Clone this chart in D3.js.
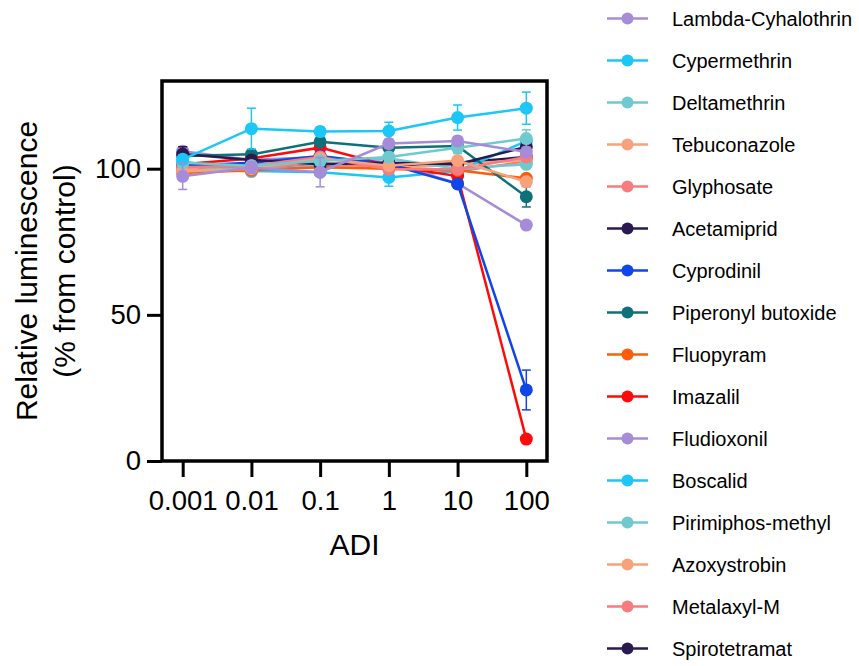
<!DOCTYPE html>
<html>
<head>
<meta charset="utf-8">
<script src="https://cdn.jsdelivr.net/npm/d3@7"></script>
<style>
  html, body { margin: 0; padding: 0; background: #fff; }
  svg text { font-family: Arial, "Liberation Sans", sans-serif; fill: #000; }
</style>
</head>
<body>
<svg id="chart" width="859" height="666"></svg>
<script>
// Concentrations (ADI multiples) and tick labels
const concentrations = [0.001, 0.01, 0.1, 1, 10, 100];
const xTickLabels = ["0.001", "0.01", "0.1", "1", "10", "100"];
const yTicks = [0, 50, 100];

// Compounds in legend order
const compounds = [
  "Lambda-Cyhalothrin", "Cypermethrin", "Deltamethrin", "Tebuconazole",
  "Glyphosate", "Acetamiprid", "Cyprodinil", "Piperonyl butoxide",
  "Fluopyram", "Imazalil", "Fludioxonil", "Boscalid",
  "Pirimiphos-methyl", "Azoxystrobin", "Metalaxyl-M", "Spirotetramat"
];
const colors = [
  "#a68cd8", "#1cc6f6", "#6ecace", "#f8a27c",
  "#f87b7e", "#2b1a52", "#1046e8", "#10707a",
  "#ff5b0c", "#ff0a0a", "#a68cd8", "#1cc6f6",
  "#6ecace", "#f8a27c", "#f87b7e", "#2b1a52"
];

// Mean relative luminescence (% of control) per compound
const lambdaCyhalothrin = [97.4, 100.4, 98.8, 108.6, 109.5, 105.7];
const cypermethrin      = [103.2, 113.7, 112.7, 112.9, 117.5, 120.7];
const deltamethrin      = [102.0, 101.0, 102.6, 104.0, 107.2, 110.3];
const tebuconazole      = [99.0, 100.0, 103.5, 101.0, 102.8, 95.5];
const glyphosate        = [100.5, 101.0, 104.0, 99.8, 99.8, 104.0];
const acetamiprid       = [105.0, 103.0, 101.5, 102.0, 101.5, 107.5];
const cyprodinil        = [101.0, 102.0, 104.3, 101.5, 94.8, 24.3];
const piperonylButoxide = [104.3, 104.9, 109.2, 107.2, 107.8, 90.4];
const fluopyram         = [98.5, 99.5, 100.5, 100.0, 99.5, 96.7];
const imazalil          = [101.5, 103.5, 107.2, 101.0, 97.5, 7.5];
const fludioxonil       = [106.0, 103.0, 104.0, 102.0, 95.0, 80.7];
const boscalid          = [102.5, 99.2, 98.8, 97.0, 99.2, 109.4];
const pirimiphosMethyl  = [101.0, 99.5, 101.0, 103.5, 100.0, 101.5];
const azoxystrobin      = [100.0, 99.0, 101.0, 100.0, 101.5, 103.0];
const metalaxylM        = [101.0, 100.0, 102.0, 100.5, 99.0, 102.5];
const spirotetramat     = [100.0, 101.5, 100.5, 101.0, 102.0, 104.0];

// Standard deviations per compound
const lambdaCyhalothrinSD = [4.5, 2.0, 5.0, 1.5, 1.5, 1.5];
const cypermethrinSD      = [1.5, 7.0, 1.5, 3.0, 4.3, 5.5];
const deltamethrinSD      = [1.5, 1.5, 1.5, 1.5, 2.0, 3.0];
const tebuconazoleSD      = [1.0, 1.0, 1.0, 1.0, 1.0, 1.0];
const glyphosateSD        = [1.0, 1.0, 1.0, 1.0, 1.0, 1.0];
const acetamipridSD       = [2.5, 1.0, 1.0, 1.0, 1.0, 1.5];
const cyprodinilSD        = [1.0, 1.0, 1.0, 1.0, 1.0, 6.8];
const piperonylButoxideSD = [1.5, 1.5, 1.0, 1.0, 1.0, 3.5];
const fluopyramSD         = [1.0, 1.0, 1.0, 1.0, 1.0, 1.0];
const imazalilSD          = [1.0, 1.0, 1.0, 1.0, 1.0, 0.5];
const fludioxonilSD       = [1.5, 1.0, 1.0, 1.0, 1.5, 1.0];
const boscalidSD          = [1.0, 1.0, 1.0, 3.0, 1.0, 1.5];
const pirimiphosMethylSD  = [1.0, 1.0, 1.0, 1.0, 1.0, 1.0];
const azoxystrobinSD      = [1.0, 1.0, 1.0, 1.0, 1.0, 1.0];
const metalaxylMSD        = [1.0, 1.0, 1.0, 1.0, 1.0, 1.0];
const spirotetramatSD     = [1.0, 1.0, 1.0, 1.0, 1.0, 1.0];

const meanSets = [
  lambdaCyhalothrin, cypermethrin, deltamethrin, tebuconazole,
  glyphosate, acetamiprid, cyprodinil, piperonylButoxide,
  fluopyram, imazalil, fludioxonil, boscalid,
  pirimiphosMethyl, azoxystrobin, metalaxylM, spirotetramat
];
const sdSets = [
  lambdaCyhalothrinSD, cypermethrinSD, deltamethrinSD, tebuconazoleSD,
  glyphosateSD, acetamipridSD, cyprodinilSD, piperonylButoxideSD,
  fluopyramSD, imazalilSD, fludioxonilSD, boscalidSD,
  pirimiphosMethylSD, azoxystrobinSD, metalaxylMSD, spirotetramatSD
];

const series = compounds.map((name, i) => ({
  name,
  color: colors[i],
  points: concentrations.map((c, j) => ({ x: c, y: meanSets[i][j], sd: sdSets[i][j] }))
}));

const svg = d3.select("#chart");

const plot = { left: 162, right: 547, top: 81, bottom: 461 };
const x = d3.scaleLog().domain([0.0005, 200]).range([plot.left, plot.right]);
const y = d3.scaleLinear().domain([0, 130]).range([plot.bottom, plot.top]);

// Series: first compound ends up on top
const gSeries = svg.append("g");
const line = d3.line().x(d => x(d.x)).y(d => y(d.y));

series.slice().reverse().forEach(s => {
  const g = gSeries.append("g");
  // error bars
  const eb = g.selectAll("g.eb").data(s.points).join("g").attr("class", "eb")
    .attr("stroke", s.color).attr("stroke-width", 1.5);
  eb.append("line")
    .attr("x1", d => x(d.x)).attr("x2", d => x(d.x))
    .attr("y1", d => y(d.y - d.sd)).attr("y2", d => y(d.y + d.sd));
  eb.append("line")
    .attr("x1", d => x(d.x) - 4.5).attr("x2", d => x(d.x) + 4.5)
    .attr("y1", d => y(d.y + d.sd)).attr("y2", d => y(d.y + d.sd));
  eb.append("line")
    .attr("x1", d => x(d.x) - 4.5).attr("x2", d => x(d.x) + 4.5)
    .attr("y1", d => y(d.y - d.sd)).attr("y2", d => y(d.y - d.sd));
  g.append("path").datum(s.points)
    .attr("d", line).attr("fill", "none")
    .attr("stroke", s.color).attr("stroke-width", 2.5);
  g.selectAll("circle").data(s.points).join("circle")
    .attr("cx", d => x(d.x)).attr("cy", d => y(d.y))
    .attr("r", 6.5).attr("fill", s.color);
});

// Frame
svg.append("rect")
  .attr("x", plot.left).attr("y", plot.top)
  .attr("width", plot.right - plot.left).attr("height", plot.bottom - plot.top)
  .attr("fill", "none").attr("stroke", "#000").attr("stroke-width", 3.5);

// X axis
const xAxis = d3.axisBottom(x)
  .tickValues(concentrations)
  .tickFormat((d, i) => xTickLabels[i])
  .tickSize(16).tickPadding(13);
const gx = svg.append("g").attr("transform", `translate(0,${plot.bottom})`).call(xAxis);
gx.select(".domain").remove();
gx.selectAll(".tick line").attr("stroke", "#000").attr("stroke-width", 3);
gx.selectAll(".tick text").attr("font-size", 27.5).attr("fill", "#000")
  .attr("font-family", "Arial, 'Liberation Sans', sans-serif");

// Y axis
const yAxis = d3.axisLeft(y).tickValues(yTicks).tickSize(15).tickPadding(6);
const gy = svg.append("g").attr("transform", `translate(${plot.left},0)`).call(yAxis);
gy.select(".domain").remove();
gy.selectAll(".tick line").attr("stroke", "#000").attr("stroke-width", 3);
gy.selectAll(".tick text").attr("font-size", 27.5).attr("fill", "#000")
  .attr("font-family", "Arial, 'Liberation Sans', sans-serif");

// Axis titles
svg.append("text")
  .attr("x", (plot.left + plot.right) / 2).attr("y", 555)
  .attr("text-anchor", "middle").attr("font-size", 30).text("ADI");

const yTitle = svg.append("text")
  .attr("transform", `translate(0,${(plot.top + plot.bottom) / 2}) rotate(-90)`)
  .attr("text-anchor", "middle").attr("font-size", 30);
yTitle.append("tspan").attr("x", 0).attr("y", 36.5).text("Relative luminescence");
yTitle.append("tspan").attr("x", 0).attr("y", 74.5).text("(% from control)");

// Legend
const legend = svg.append("g");
const items = legend.selectAll("g").data(series).join("g")
  .attr("transform", (d, i) => `translate(0,${18.5 + i * 42})`);
items.append("line").attr("x1", 607).attr("x2", 648)
  .attr("stroke", d => d.color).attr("stroke-width", 2.5);
items.append("circle").attr("cx", 627.5).attr("cy", 0).attr("r", 6)
  .attr("fill", d => d.color);
items.append("text").attr("x", 672).attr("y", 0).attr("dy", "0.35em")
  .attr("font-size", 20).text(d => d.name);
</script>
</body>
</html>
